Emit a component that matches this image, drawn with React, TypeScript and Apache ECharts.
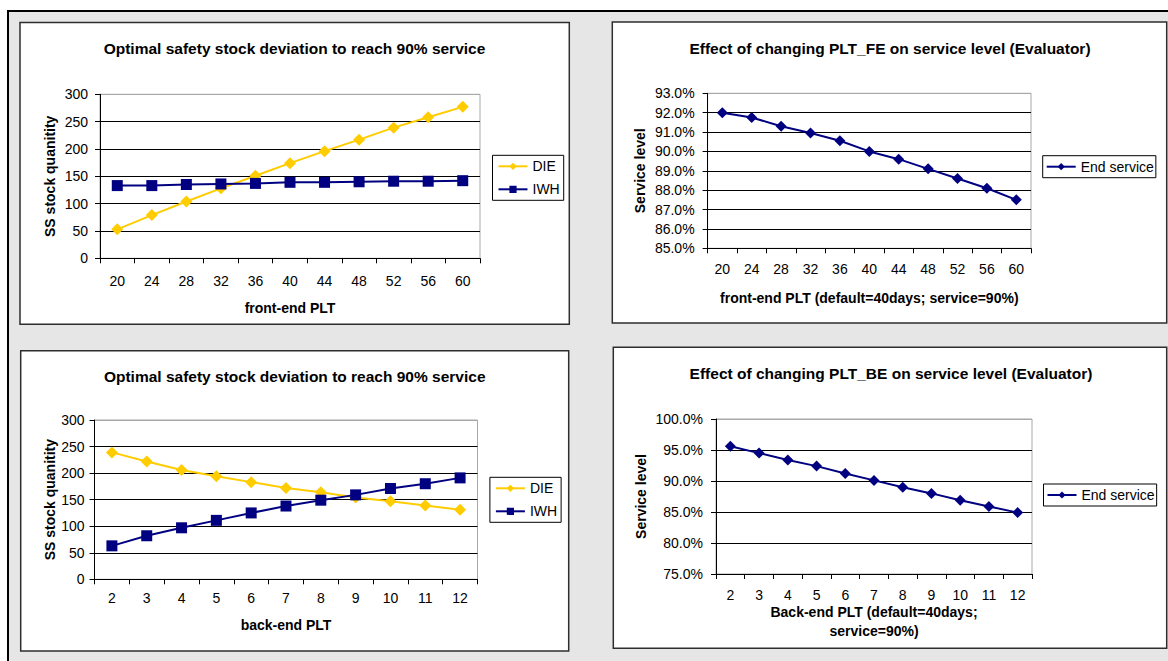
import React, { useEffect, useRef } from "react";
import * as echarts from "echarts";

// Lead-time categories
const frontEndPLT = ["20", "24", "28", "32", "36", "40", "44", "48", "52", "56", "60"];
const backEndPLT = ["2", "3", "4", "5", "6", "7", "8", "9", "10", "11", "12"];

// Safety stock quantities
const dieFront = [53, 79, 104, 128, 151, 174, 196, 217, 239, 258, 277];
const iwhFront = [133, 133, 135, 136, 137, 139, 139, 140, 141, 141, 142];
const dieBack = [239, 222, 206, 194, 183, 172, 164, 154, 147, 139, 131];
const iwhBack = [63, 82, 97, 111, 125, 138, 149, 159, 171, 180, 191];

// Service level (%)
const serviceFront = [92.0, 91.75, 91.3, 90.95, 90.55, 90.0, 89.6, 89.1, 88.6, 88.1, 87.5];
const serviceBack = [95.6, 94.5, 93.4, 92.4, 91.2, 90.1, 89.0, 88.0, 86.9, 85.9, 84.9];

const titles = [
  "Optimal safety stock deviation to reach 90% service",
  "Effect of changing PLT_FE on service level (Evaluator)",
  "Optimal safety stock deviation to reach 90% service",
  "Effect of changing PLT_BE on service level (Evaluator)",
];

const FONT = "'Liberation Sans', Arial, sans-serif";
const YELLOW = "#FFCC00";
const NAVY = "#000080";

function gridLineColors(n: number) {
  const c: string[] = [];
  for (let i = 0; i < n; i++) c.push(i === n - 1 ? "#a8a8a8" : "#000000");
  return c;
}

function catAxis(gridIndex: number, data: string[], name: string, nameGap: number, labelMargin: number) {
  return {
    type: "category",
    gridIndex,
    data,
    boundaryGap: true,
    name,
    nameLocation: "middle",
    nameGap,
    nameTextStyle: { fontFamily: FONT, fontSize: 14, fontWeight: "bold", color: "#000", lineHeight: 19 },
    axisLine: { lineStyle: { color: "#000", width: 1 } },
    axisTick: { show: true, length: 5, lineStyle: { color: "#000" } },
    axisLabel: { interval: 0, margin: labelMargin, fontFamily: FONT, fontSize: 14, color: "#000" },
    splitLine: { show: false },
  };
}

function valAxis(
  gridIndex: number,
  min: number,
  max: number,
  interval: number,
  name: string,
  nameGap: number,
  labelMargin: number,
  pct: boolean
) {
  const n = Math.round((max - min) / interval) + 1;
  return {
    type: "value",
    gridIndex,
    min,
    max,
    interval,
    name,
    nameLocation: "middle",
    nameGap,
    nameTextStyle: { fontFamily: FONT, fontSize: 14, fontWeight: "bold", color: "#000" },
    axisLine: { show: true, lineStyle: { color: "#000", width: 1 } },
    axisTick: { show: true, length: 5, lineStyle: { color: "#000" } },
    axisLabel: {
      margin: labelMargin,
      fontFamily: FONT,
      fontSize: 14,
      color: "#000",
      formatter: pct ? (v: number) => v.toFixed(1) + "%" : undefined,
    },
    splitLine: { show: true, lineStyle: { color: gridLineColors(n), width: 1 } },
  };
}

function legendAt(left: number, top: number, data: string[], padding: number[]) {
  return {
    orient: "vertical",
    left,
    top,
    data,
    itemWidth: 29,
    itemHeight: 9,
    itemGap: 9,
    padding,
    backgroundColor: "#fff",
    borderColor: "#000",
    borderWidth: 1,
    selectedMode: false,
    textStyle: { fontFamily: FONT, fontSize: 14, color: "#000" },
  };
}

function panel(x1: number, y1: number, x2: number, y2: number) {
  return {
    type: "rect",
    z: -10,
    shape: { x: x1, y: y1, width: x2 - x1, height: y2 - y1 },
    style: { fill: "#ffffff", stroke: "#2e2e2e", lineWidth: 1.5 },
  };
}

function titleText(x: number, y: number, text: string) {
  return {
    type: "text",
    z: 5,
    x,
    y,
    style: {
      text,
      fill: "#000",
      font: `bold 15.5px ${FONT}`,
      textAlign: "center",
      textVerticalAlign: "middle",
    },
  };
}

export default function App() {
  const ref = useRef<HTMLDivElement>(null);

  useEffect(() => {
    if (!ref.current) return;
    const chart = echarts.init(ref.current, undefined, { renderer: "svg" });

    const gridBase = { show: true, borderColor: "#a8a8a8", borderWidth: 1, backgroundColor: "transparent", containLabel: false };

    const option: any = {
      animation: false,
      backgroundColor: "#ffffff",
      graphic: [
        {
          type: "rect",
          z: -20,
          shape: { x: 8, y: 11, width: 1200, height: 700 },
          style: { fill: "#e6e6e6", stroke: "#000", lineWidth: 2 },
        },
        panel(20, 22.5, 569.3, 324.3),
        panel(612.3, 22, 1166.7, 323),
        panel(20.7, 350.7, 568.7, 651),
        panel(613.3, 347.3, 1166.7, 648.3),
        titleText(294.5, 48.5, titles[0]),
        titleText(890, 48, titles[1]),
        titleText(294.7, 376, titles[2]),
        titleText(891, 373.3, titles[3]),
      ],
      grid: [
        { ...gridBase, left: 100, top: 94.3, width: 380, height: 164 },
        { ...gridBase, left: 707.6, top: 93.3, width: 323.4, height: 155 },
        { ...gridBase, left: 94.5, top: 420, width: 383, height: 159.3 },
        { ...gridBase, left: 716, top: 419, width: 316, height: 155 },
      ],
      xAxis: [
        catAxis(0, frontEndPLT, "front-end PLT", 40, 15.5),
        catAxis(1, frontEndPLT, "front-end PLT (default=40days; service=90%)", 40, 13.5),
        catAxis(2, backEndPLT, "back-end PLT", 36, 11.5),
        catAxis(3, backEndPLT, "Back-end PLT (default=40days;\nservice=90%)", 28, 14),
      ],
      yAxis: [
        valAxis(0, 0, 300, 50, "SS stock quanitity", 43, 12, false),
        valAxis(1, 85, 93, 1, "Service level", 61, 13, true),
        valAxis(2, 0, 300, 50, "SS stock quanitity", 38, 10, false),
        valAxis(3, 75, 100, 5, "Service level", 68, 13, true),
      ],
      legend: [
        legendAt(492.5, 155.3, ["DIE", "IWH"], [4, 4, 4, 5]),
        legendAt(1042.7, 155.7, ["End service"], [4, 2, 4, 3]),
        legendAt(489.9, 477.3, ["DIE", "IWH"], [4, 4, 4, 5]),
        legendAt(1043.5, 484, ["End service"], [4, 2, 4, 3]),
      ],
      series: [
        {
          name: "DIE",
          type: "line",
          xAxisIndex: 0,
          yAxisIndex: 0,
          data: dieFront,
          symbol: "diamond",
          symbolSize: 12,
          itemStyle: { color: YELLOW },
          lineStyle: { color: YELLOW, width: 2 },
        },
        {
          name: "IWH",
          type: "line",
          xAxisIndex: 0,
          yAxisIndex: 0,
          data: iwhFront,
          symbol: "rect",
          symbolSize: 11,
          itemStyle: { color: NAVY },
          lineStyle: { color: NAVY, width: 2 },
        },
        {
          name: "End service",
          type: "line",
          xAxisIndex: 1,
          yAxisIndex: 1,
          data: serviceFront,
          symbol: "diamond",
          symbolSize: 11,
          itemStyle: { color: NAVY },
          lineStyle: { color: NAVY, width: 2 },
        },
        {
          name: "DIE",
          type: "line",
          xAxisIndex: 2,
          yAxisIndex: 2,
          data: dieBack,
          symbol: "diamond",
          symbolSize: 12,
          itemStyle: { color: YELLOW },
          lineStyle: { color: YELLOW, width: 2 },
        },
        {
          name: "IWH",
          type: "line",
          xAxisIndex: 2,
          yAxisIndex: 2,
          data: iwhBack,
          symbol: "rect",
          symbolSize: 11,
          itemStyle: { color: NAVY },
          lineStyle: { color: NAVY, width: 2 },
        },
        {
          name: "End service",
          type: "line",
          xAxisIndex: 3,
          yAxisIndex: 3,
          data: serviceBack,
          symbol: "diamond",
          symbolSize: 11,
          itemStyle: { color: NAVY },
          lineStyle: { color: NAVY, width: 2 },
        },
      ],
    };

    chart.setOption(option);
    return () => chart.dispose();
  }, []);

  return (
    <div
      ref={ref}
      style={{ position: "absolute", left: 0, top: 0, width: 1168, height: 661 }}
    />
  );
}
